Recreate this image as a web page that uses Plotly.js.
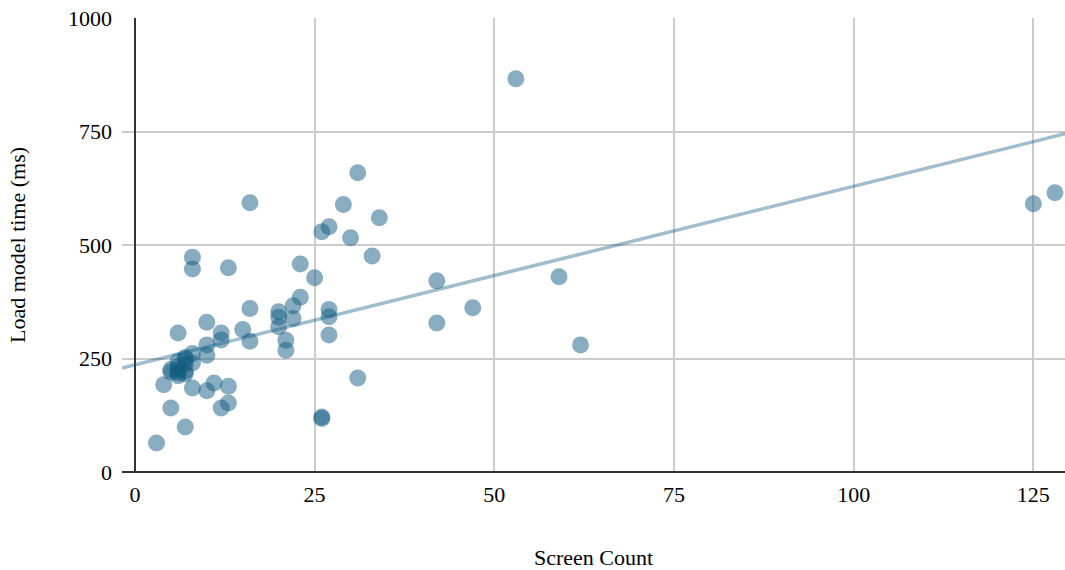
<!DOCTYPE html>
<html>
<head>
<meta charset="utf-8">
<script src="https://cdn.plot.ly/plotly-3.0.1.min.js"></script>
<style>html,body{margin:0;padding:0;background:#fff;}#chart{width:1065px;height:570px;}</style>
</head>
<body>
<div id="chart"></div>
<script>
// Screen count per app (x) and load model time in ms (y)
const screenCount = [
  3, 4, 5, 7, 6, 8, 8, 8, 10, 10, 10, 10, 11, 12, 12, 12, 13, 13, 13, 15,
  16, 16, 16, 20, 20, 20, 21, 21, 22, 22, 23, 23, 25, 26, 27, 26, 26, 27, 27, 27,
  29, 30, 31, 31, 33, 34, 42, 42, 47, 53, 59, 62, 125, 128,
  5, 5, 6, 6, 6, 6, 6, 7, 7, 7, 7, 7, 8, 8
];
const loadTime = [
  64, 192, 141, 99, 306, 185, 473, 447, 330, 280, 257, 179, 196, 306, 291, 141, 450, 189, 152, 314,
  593, 360, 288, 353, 341, 320, 290, 268, 366, 338, 385, 458, 428, 529, 540, 121, 118, 358, 342, 302,
  589, 516, 659, 207, 476, 560, 421, 328, 362, 866, 430, 280, 591, 615,
  220, 226, 212, 218, 224, 232, 244, 216, 222, 238, 248, 252, 240, 261
];
// Trend line end points
const trendX = [-1.8, 129.4];
const trendY = [229, 745];

const xTicks = [0, 25, 50, 75, 100, 125];
const yTicks = [0, 250, 500, 750, 1000];

const FONT = 'Liberation Serif, Times New Roman, serif';

const traces = [
  {
    type: 'scatter', mode: 'lines', x: trendX, y: trendY,
    line: {color: 'rgba(17,91,129,0.4)', width: 3.5},
    hoverinfo: 'skip', showlegend: false
  },
  {
    type: 'scatter', mode: 'markers', x: screenCount, y: loadTime,
    marker: {color: 'rgb(17,91,129)', opacity: 0.5, size: 17, line: {width: 0}},
    showlegend: false
  }
];

const layout = {
  width: 1065, height: 570,
  margin: {l: 122, r: 0, t: 18, b: 98},
  paper_bgcolor: '#fff', plot_bgcolor: '#fff',
  font: {family: FONT, size: 22, color: '#000'},
  showlegend: false,
  xaxis: {
    range: [-1.8, 129.4],
    tickvals: xTicks, ticktext: xTicks.map(String),
    showgrid: true, gridcolor: '#cccccc', gridwidth: 2,
    zeroline: true, zerolinecolor: '#333', zerolinewidth: 2,
    showline: false, ticks: '', ticklabelstandoff: 7,
    tickfont: {family: FONT, size: 22},
    title: {text: 'Screen Count', font: {family: FONT, size: 22}, standoff: 47},
    automargin: false
  },
  yaxis: {
    range: [0, 1000],
    tickvals: yTicks, ticktext: yTicks.map(String),
    showgrid: true, gridcolor: '#cccccc', gridwidth: 2,
    zeroline: true, zerolinecolor: '#333', zerolinewidth: 2,
    showline: false, ticks: '', ticklabelstandoff: 9,
    tickfont: {family: FONT, size: 22},
    title: {text: 'Load model time (ms)', font: {family: FONT, size: 22}, standoff: 36},
    automargin: false
  }
};

Plotly.newPlot('chart', traces, layout, {displayModeBar: false, staticPlot: true});
</script>
</body>
</html>
